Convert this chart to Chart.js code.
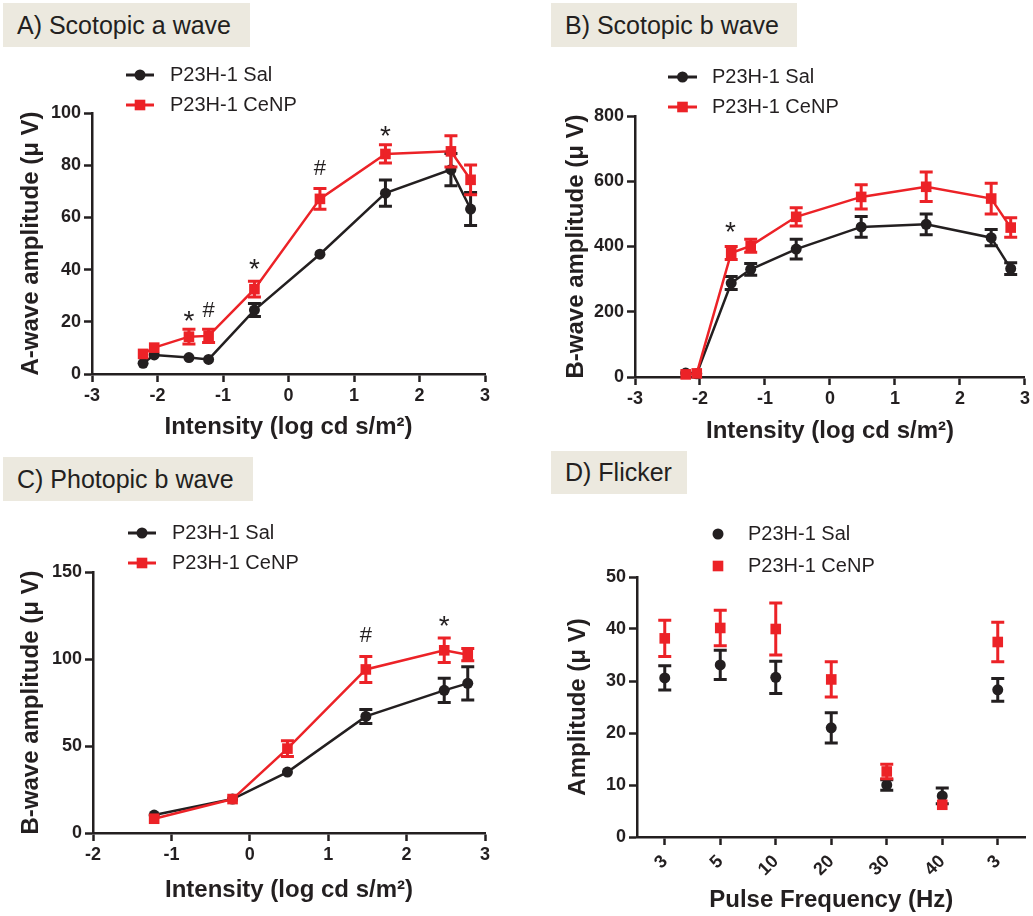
<!DOCTYPE html>
<html>
<head>
<meta charset="utf-8">
<script src="https://cdn.jsdelivr.net/npm/chart.js@4.4.1/dist/chart.umd.min.js"></script>
<style>
body { margin: 0; background: #fff; width: 1033px; height: 916px; position: relative; overflow: hidden; font-family: "Liberation Sans", Arial, sans-serif; }
.box { position: absolute; background: #ece9df; color: #231f20; font-size: 25px; line-height: 44px; padding-left: 14px; box-sizing: border-box; white-space: nowrap; }
canvas { position: absolute; }
</style>
</head>
<body>
<div class="box" style="left:3px;top:3px;width:247px;height:44px">A) Scotopic a wave</div>
<div class="box" style="left:551px;top:3px;width:246px;height:44px">B) Scotopic b wave</div>
<div class="box" style="left:3px;top:457px;width:250px;height:44px">C) Photopic b wave</div>
<div class="box" style="left:551px;top:451px;width:136px;height:43px;line-height:43px">D) Flicker</div>

<canvas id="chartA" width="515" height="400" style="left:0px;top:50px"></canvas>
<canvas id="chartB" width="513" height="400" style="left:520px;top:50px"></canvas>
<canvas id="chartC" width="515" height="405" style="left:0px;top:505px"></canvas>
<canvas id="chartD" width="513" height="411" style="left:520px;top:505px"></canvas>

<script>
const BLACK = "#231f20";
const RED = "#ec2227";
const FONT = '"Liberation Sans", Arial, sans-serif';

// scotopic flash intensities (log cd s/m2), panels A and B
const scotopicIntensity = [-2.22, -2.05, -1.52, -1.22, -0.52, 0.48, 1.48, 2.48, 2.78];

// A) scotopic a wave (uV)
const aSal = [4.1, 7.3, 6.3, 5.6, 24.5, 45.9, 69.3, 78.3, 63.2];
const aSalErr = [0, 0, 0, 0, 2.5, 0, 5, 6.2, 6.3];
const aCenp = [7.7, 10.1, 14.3, 14.6, 32.5, 67.1, 84.3, 85.3, 74.4];
const aCenpErr = [0, 0, 2.8, 2.5, 3, 4, 3.5, 6, 5.7];
const aMarks = [
    { x: -1.52, y: 22, t: "*" },
    { x: -1.22, y: 24, t: "#" },
    { x: -0.52, y: 42, t: "*" },
    { x: 0.48, y: 78.5, t: "#" },
    { x: 1.48, y: 93, t: "*" },
];

// B) scotopic b wave (uV)
const bSal = [12, 10, 288, 330, 392, 460, 468, 427, 332];
const bSalErr = [0, 0, 20, 18, 30, 32, 32, 25, 18];
const bCenp = [8, 11, 380, 402, 491, 552, 583, 547, 458];
const bCenpErr = [0, 0, 20, 20, 28, 37, 45, 47, 30];
const bMarks = [{ x: -1.53, y: 460, t: "*" }];

// C) photopic b wave (uV)
const photopicIntensity = [-1.22, -0.22, 0.48, 1.48, 2.48, 2.78];
const cSal = [10.3, 19.5, 35, 67, 82, 86];
const cSalErr = [0, 0, 0, 4, 7, 9.5];
const cCenp = [8.2, 19.5, 48.5, 94, 105, 102.5];
const cCenpErr = [0, 0, 4.5, 7.5, 7, 3.5];
const cMarks = [
    { x: 1.48, y: 113, t: "#" },
    { x: 2.48, y: 121.5, t: "*" },
];

// D) flicker (uV)
const flickerFreq = ["3", "5", "10", "20", "30", "40", "3"];
const dSal = [30.6, 33.1, 30.7, 21.0, 10.0, 7.9, 28.3];
const dSalErr = [2.35, 2.8, 3.1, 2.9, 1.0, 1.5, 2.2];
const dCenp = [38.2, 40.2, 40.0, 30.3, 12.6, 6.2, 37.5];
const dCenpErr = [3.5, 3.4, 5.0, 3.4, 1.4, 0, 3.8];

const xy = (xs, ys) => xs.map((x, i) => ({ x: x, y: ys[i] }));

const errorBars = {
    id: "errorBars",
    afterDatasetDraw(chart, args) {
        const ds = chart.data.datasets[args.index];
        if (!ds.errors) return;
        const ctx = chart.ctx;
        const yScale = chart.scales.y;
        ctx.save();
        ctx.strokeStyle = ds.borderColor;
        ctx.lineWidth = 3;
        args.meta.data.forEach((pt, j) => {
            const e = ds.errors[j];
            if (!e) return;
            const raw = ds.data[j];
            const v = typeof raw === "object" ? raw.y : raw;
            const top = yScale.getPixelForValue(v + e);
            const bot = yScale.getPixelForValue(v - e);
            ctx.beginPath();
            ctx.moveTo(pt.x, top); ctx.lineTo(pt.x, bot);
            ctx.moveTo(pt.x - 6.5, top); ctx.lineTo(pt.x + 6.5, top);
            ctx.moveTo(pt.x - 6.5, bot); ctx.lineTo(pt.x + 6.5, bot);
            ctx.stroke();
        });
        ctx.restore();
    }
};

const sigMarks = {
    id: "sigMarks",
    afterDatasetsDraw(chart, args, opts) {
        if (!opts.items) return;
        const ctx = chart.ctx;
        ctx.save();
        ctx.fillStyle = BLACK;
        ctx.textAlign = "center";
        ctx.textBaseline = "middle";
        opts.items.forEach(m => {
            const size = m.t === "*" ? 28 : 22;
            ctx.font = size + "px " + FONT;
            const shift = m.t === "*" ? 0.22 * size : 0;
            ctx.fillText(m.t, chart.scales.x.getPixelForValue(m.x), chart.scales.y.getPixelForValue(m.y) + shift);
        });
        ctx.restore();
    }
};

function drawMarker(ctx, ds, x, y) {
    ctx.fillStyle = ds.backgroundColor;
    if (ds.pointStyle === "rect") {
        const s = ds.pointRadius * Math.SQRT1_2;
        ctx.fillRect(x - s, y - s, 2 * s, 2 * s);
    } else {
        ctx.beginPath();
        ctx.arc(x, y, ds.pointRadius, 0, Math.PI * 2);
        ctx.fill();
    }
}

const sideLegend = {
    id: "sideLegend",
    afterDraw(chart, args, opts) {
        const ctx = chart.ctx;
        chart.data.datasets.forEach((ds, i) => {
            const y = opts.y + i * opts.dy;
            const mx = opts.x + opts.len / 2;
            ctx.save();
            if (opts.len) {
                ctx.strokeStyle = ds.borderColor;
                ctx.lineWidth = 3;
                ctx.beginPath();
                ctx.moveTo(opts.x, y);
                ctx.lineTo(opts.x + opts.len, y);
                ctx.stroke();
            }
            drawMarker(ctx, ds, mx, y);
            ctx.fillStyle = BLACK;
            ctx.font = "20px " + FONT;
            ctx.textAlign = "left";
            ctx.textBaseline = "middle";
            ctx.fillText(ds.label, opts.textX, y);
            ctx.restore();
        });
    }
};

function geometry(canvas, plot, yTitleX, xTitleY) {
    const left = parseFloat(canvas.style.left);
    const top = parseFloat(canvas.style.top);
    const pl = yTitleX - left - 23;
    return {
        padding: { left: pl, top: plot.t - top, right: left + canvas.width - plot.r, bottom: top + canvas.height - (xTitleY + 16) },
        yWidth: plot.l - left - pl,
        xHeight: xTitleY + 16 - plot.b
    };
}

function axis(title, isX, size, ticks, extra) {
    return Object.assign({
        border: { display: true, color: BLACK, width: 2.5 },
        grid: { display: true, drawOnChartArea: false, drawTicks: true, tickLength: 8, tickWidth: 2.5, tickColor: BLACK },
        ticks: Object.assign({ color: BLACK, font: { family: FONT, size: 18, weight: "bold" }, padding: 3 }, ticks),
        title: {
            display: true, text: title, color: BLACK,
            font: { family: FONT, size: 24, weight: "bold", lineHeight: 1 },
            padding: isX ? { top: 0, bottom: 4 } : { top: 11, bottom: 0 }
        },
        afterFit: s => { if (isX) s.height = size; else s.width = size; }
    }, extra);
}

function series(label, data, errors, isSal, showLine) {
    return {
        label: label,
        data: data,
        errors: errors,
        showLine: showLine,
        borderColor: isSal ? BLACK : RED,
        backgroundColor: isSal ? BLACK : RED,
        borderWidth: 2.5,
        pointStyle: isSal ? "circle" : "rect",
        pointRadius: isSal ? 5.5 : 7.5,
        pointBorderWidth: 0,
        tension: 0,
        clip: false,
        order: isSal ? 2 : 1,
    };
}

function makeChart(id, type, labels, datasets, xAxis, yAxis, geo, legend, marks) {
    const canvas = document.getElementById(id);
    return new Chart(canvas.getContext("2d"), {
        type: type,
        data: { labels: labels, datasets: datasets },
        options: {
            responsive: false,
            animation: false,
            events: [],
            layout: { padding: geo.padding },
            scales: { x: xAxis, y: yAxis },
            plugins: {
                legend: { display: false },
                tooltip: { enabled: false },
                sideLegend: legend,
                sigMarks: { items: marks },
            },
        },
        plugins: [errorBars, sigMarks, sideLegend],
    });
}

const intensityTitle = "Intensity (log cd s/m\u00b2)";

// A
let g = geometry(document.getElementById("chartA"), { l: 92, t: 113, r: 485, b: 374 }, 31, 427);
makeChart("chartA", "scatter", undefined, [
    series("P23H-1 Sal", xy(scotopicIntensity, aSal), aSalErr, true, true),
    series("P23H-1 CeNP", xy(scotopicIntensity, aCenp), aCenpErr, false, true),
], axis(intensityTitle, true, g.xHeight, { stepSize: 1 }, { type: "linear", min: -3, max: 3 }),
   axis("A-wave amplitude (\u03bc V)", false, g.yWidth, { stepSize: 20 }, { min: 0, max: 100 }),
   g, { x: 126, y: 25, dy: 30, len: 28, textX: 170 }, aMarks);

// B
g = geometry(document.getElementById("chartB"), { l: 635, t: 116, r: 1027, b: 377 }, 576.5, 431);
makeChart("chartB", "scatter", undefined, [
    series("P23H-1 Sal", xy(scotopicIntensity, bSal), bSalErr, true, true),
    series("P23H-1 CeNP", xy(scotopicIntensity, bCenp), bCenpErr, false, true),
], axis(intensityTitle, true, g.xHeight, { stepSize: 1 }, { type: "linear", min: -3, max: 3 }),
   axis("B-wave amplitude (\u03bc V)", false, g.yWidth, { stepSize: 200 }, { min: 0, max: 800 }),
   g, { x: 148, y: 27, dy: 30, len: 29, textX: 192 }, bMarks);

// C
g = geometry(document.getElementById("chartC"), { l: 93, t: 572, r: 485, b: 833 }, 31, 890);
makeChart("chartC", "scatter", undefined, [
    series("P23H-1 Sal", xy(photopicIntensity, cSal), cSalErr, true, true),
    series("P23H-1 CeNP", xy(photopicIntensity, cCenp), cCenpErr, false, true),
], axis(intensityTitle, true, g.xHeight, { stepSize: 1 }, { type: "linear", min: -2, max: 3 }),
   axis("B-wave amplitude (\u03bc V)", false, g.yWidth, { stepSize: 50 }, { min: 0, max: 150 }),
   g, { x: 128, y: 28, dy: 30, len: 28, textX: 172 }, cMarks);

// D
g = geometry(document.getElementById("chartD"), { l: 637, t: 577, r: 1030, b: 837 }, 578.5, 900);
makeChart("chartD", "line", flickerFreq, [
    series("P23H-1 Sal", dSal, dSalErr, true, false),
    series("P23H-1 CeNP", dCenp, dCenpErr, false, false),
], axis("Pulse Frequency (Hz)", true, g.xHeight, { minRotation: 45, maxRotation: 45, autoSkip: false, padding: 6 }, { type: "category", offset: true }),
   axis("Amplitude (\u03bc V)", false, g.yWidth, { stepSize: 10 }, { min: 0, max: 50 }),
   g, { x: 198, y: 29, dy: 32, len: 0, textX: 228 }, []);
</script>
</body>
</html>
